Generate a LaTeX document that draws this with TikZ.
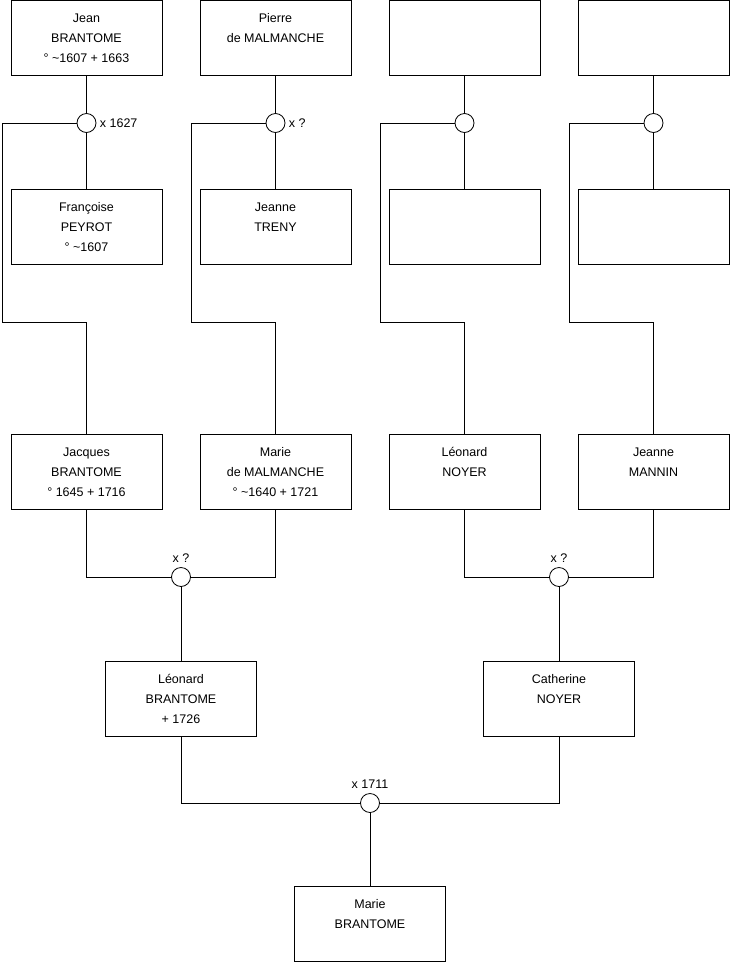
\documentclass[tikz,border=0pt]{standalone}
\usepackage{fontspec}
\setmainfont{Liberation Sans}
\usetikzlibrary{positioning,calc}

\begin{document}
\begin{tikzpicture}[
    x=1pt, y=1pt,
    node distance=189pt,
    person/.style={rectangle, draw, line width=0.8pt, minimum width=151pt, minimum height=75pt,
        align=center, font=\fontsize{12.5}{20}\selectfont},
    union/.style={circle, draw, line width=0.8pt, fill=white, minimum size=19pt, inner sep=0pt,
        label distance=0pt},
    every label/.style={font=\fontsize{12.5}{15}\selectfont},
    link/.style={line width=0.8pt}
]
\useasboundingbox (0,0) rectangle (740,-975);

% grands-parents
\node[person] (jean) at (86.5,-38) {Jean\\BRANTOME\\° \char`\~1607 + 1663};
\node[person, right of=jean] (pierre) {Pierre\\de MALMANCHE\\\mbox{}};
\node[person, right of=pierre] (inconnu1) {};
\node[person, right of=inconnu1] (inconnu2) {};

% unions du haut
\node[union, node distance=85pt, below of=jean, label=right:x 1627] (u1) {};
\node[union, node distance=85pt, below of=pierre, label=right:x ?] (u2) {};
\node[union, node distance=85pt, below of=inconnu1] (u3) {};
\node[union, node distance=85pt, below of=inconnu2] (u4) {};

% epouses
\node[person, node distance=104pt, below of=u1] (francoise) {Françoise\\PEYROT\\° \char`\~1607};
\node[person, node distance=104pt, below of=u2] (jeanne) {Jeanne\\TRENY\\\mbox{}};
\node[person, node distance=104pt, below of=u3] (inconnu3) {};
\node[person, node distance=104pt, below of=u4] (inconnu4) {};

% coudes des lignes
\coordinate (k1) at (2,-322);
\coordinate (k2) at (191,-322);
\coordinate (k3) at (380,-322);
\coordinate (k4) at (569,-322);

% parents
\node[person, node distance=434pt, below of=jean] (jacques) {Jacques\\BRANTOME\\° 1645 + 1716};
\node[person, right of=jacques] (marie) {Marie\\de MALMANCHE\\° \char`\~1640 + 1721};
\node[person, right of=marie] (leonardn) {Léonard\\NOYER\\\mbox{}};
\node[person, right of=leonardn] (jeannem) {Jeanne\\MANNIN\\\mbox{}};

\node[union, label={[label distance=1pt]above:x ?}] (u5) at (181,-577) {};
\node[union, label={[label distance=1pt]above:x ?}] (u6) at (559,-577) {};

\node[person] (leonardb) at (181,-699) {Léonard\\BRANTOME\\+ 1726};
\node[person] (catherine) at (559,-699) {Catherine\\NOYER\\\mbox{}};

\node[union, label={[label distance=1pt]above:x 1711}] (u7) at (370,-803) {};
\node[person] (marieb) at (370,-924) {Marie\\BRANTOME\\\mbox{}};

% liens
\draw[link] (jean) -- (u1) -- (francoise);
\draw[link] (pierre) -- (u2) -- (jeanne);
\draw[link] (inconnu1) -- (u3) -- (inconnu3);
\draw[link] (inconnu2) -- (u4) -- (inconnu4);

\draw[link] (u1) -| (k1) -| (jacques);
\draw[link] (u2) -| (k2) -| (marie);
\draw[link] (u3) -| (k3) -| (leonardn);
\draw[link] (u4) -| (k4) -| (jeannem);

\draw[link] (jacques) |- (u5);
\draw[link] (marie) |- (u5);
\draw[link] (u5) -- (leonardb);
\draw[link] (leonardn) |- (u6);
\draw[link] (jeannem) |- (u6);
\draw[link] (u6) -- (catherine);

\draw[link] (leonardb) |- (u7);
\draw[link] (catherine) |- (u7);
\draw[link] (u7) -- (marieb);

\end{tikzpicture}
\end{document}
